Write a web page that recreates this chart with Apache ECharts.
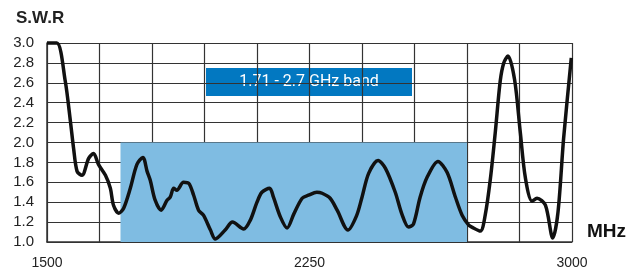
<!DOCTYPE html>
<html>
<head>
<meta charset="utf-8">
<script src="https://cdn.jsdelivr.net/npm/echarts@6/dist/echarts.min.js"></script>
<style>
  html, body { margin: 0; padding: 0; background: #fff; }
  #chart { width: 643px; height: 275px; }
</style>
</head>
<body>
<div id="chart"></div>
<script>
// measured SWR curve (MHz, S.W.R)
var freq = [1500,1528,1552,1567,1576,1586,1600,1619,1633,1647,1667,1681,1690,1705,1719,1738,1757,1774,1786,1795,
  1809,1826,1843,1852,1862,1871,1890,1905,1919,1933,1947,1967,1981,2009,2030,2062,2081,2100,2114,2136,
  2147,2167,2186,2205,2229,2247,2271,2286,2309,2329,2360,2384,2400,2419,2446,2467,2495,2514,2533,2547,
  2566,2586,2617,2643,2667,2686,2705,2714,2738,2752,2767,2781,2795,2805,2817,2836,2852,2867,2886,2900,
  2924,2945,2960,2976,2998];
var swr = [3.0,3.0,2.62,2.21,1.94,1.71,1.67,1.84,1.89,1.78,1.67,1.54,1.37,1.29,1.34,1.54,1.78,1.85,1.71,1.62,
  1.42,1.32,1.42,1.45,1.54,1.52,1.60,1.59,1.47,1.32,1.27,1.12,1.03,1.12,1.20,1.13,1.22,1.40,1.50,1.54,
  1.45,1.25,1.14,1.28,1.44,1.47,1.50,1.49,1.44,1.32,1.12,1.26,1.45,1.69,1.82,1.74,1.50,1.28,1.15,1.18,
  1.45,1.65,1.81,1.70,1.45,1.27,1.17,1.15,1.11,1.27,1.64,2.11,2.62,2.80,2.87,2.63,2.11,1.64,1.41,1.44,
  1.37,1.04,1.30,2.04,2.85];

var band = [1710, 2700];      // MHz
var bandSwr = [1.0, 2.0];
var bandLabel = '1.71 - 2.7 GHz band';
var xTicks = [1500, 2250, 3000];

var myChart = echarts.init(document.getElementById('chart'));

var points = freq.map(function (f, i) { return [f, swr[i]]; });

var option = {
    animation: false,
    grid: { left: 47, right: 71, top: 43, bottom: 33 },
    title: {
        text: 'S.W.R',
        left: 11, top: 5,
        textStyle: { fontFamily: 'Liberation Sans', fontWeight: 'bold', fontSize: 17, color: '#222' }
    },
    xAxis: {
        type: 'value',
        min: 1500, max: 3000, interval: 150,
        axisLine: { lineStyle: { color: '#333', width: 1.5 } },
        axisTick: { show: false },
        axisLabel: {
            margin: 14,
            fontFamily: 'Liberation Sans', fontSize: 14, color: '#222',
            formatter: function (v) { return xTicks.indexOf(v) >= 0 ? String(v) : ''; }
        },
        splitLine: { show: true, lineStyle: { color: '#333', width: 1.2 } }
    },
    yAxis: {
        type: 'value',
        min: 1.0, max: 3.0, interval: 0.2,
        axisLine: { show: true, lineStyle: { color: '#333', width: 1.5 } },
        axisTick: { show: false },
        axisLabel: {
            margin: 13,
            fontFamily: 'Liberation Sans', fontSize: 15, color: '#222',
            formatter: function (v) { return v.toFixed(1); }
        },
        splitLine: { show: true, lineStyle: { color: '#333', width: 1.2 } }
    },
    graphic: [
        {
            type: 'group', z: 100,
            children: [
                { type: 'rect', shape: { x: 206, y: 68, width: 206, height: 28 }, style: { fill: '#0278c1' } },
                { type: 'text', x: 309, y: 82, style: {
                    text: bandLabel, fill: '#fff', font: '16px Roboto',
                    textAlign: 'center', textVerticalAlign: 'middle' } }
            ]
        },
        {
            type: 'text', left: 587, top: 222, z: 100,
            style: { text: 'MHz', fill: '#111', font: 'bold 19px "Liberation Sans"' }
        }
    ],
    series: [
        {
            type: 'line', data: [], z: -1,
            markArea: {
                silent: true,
                itemStyle: { color: '#7fbce2', opacity: 1 },
                data: [[{ xAxis: band[0], yAxis: bandSwr[0] }, { xAxis: band[1], yAxis: bandSwr[1] }]]
            }
        },
        {
            name: 'S.W.R',
            type: 'line',
            data: points,
            smooth: 0.3,
            showSymbol: false,
            clip: false,
            lineStyle: { color: '#111', width: 3.5 }
        }
    ]
};

myChart.setOption(option);
</script>
</body>
</html>
